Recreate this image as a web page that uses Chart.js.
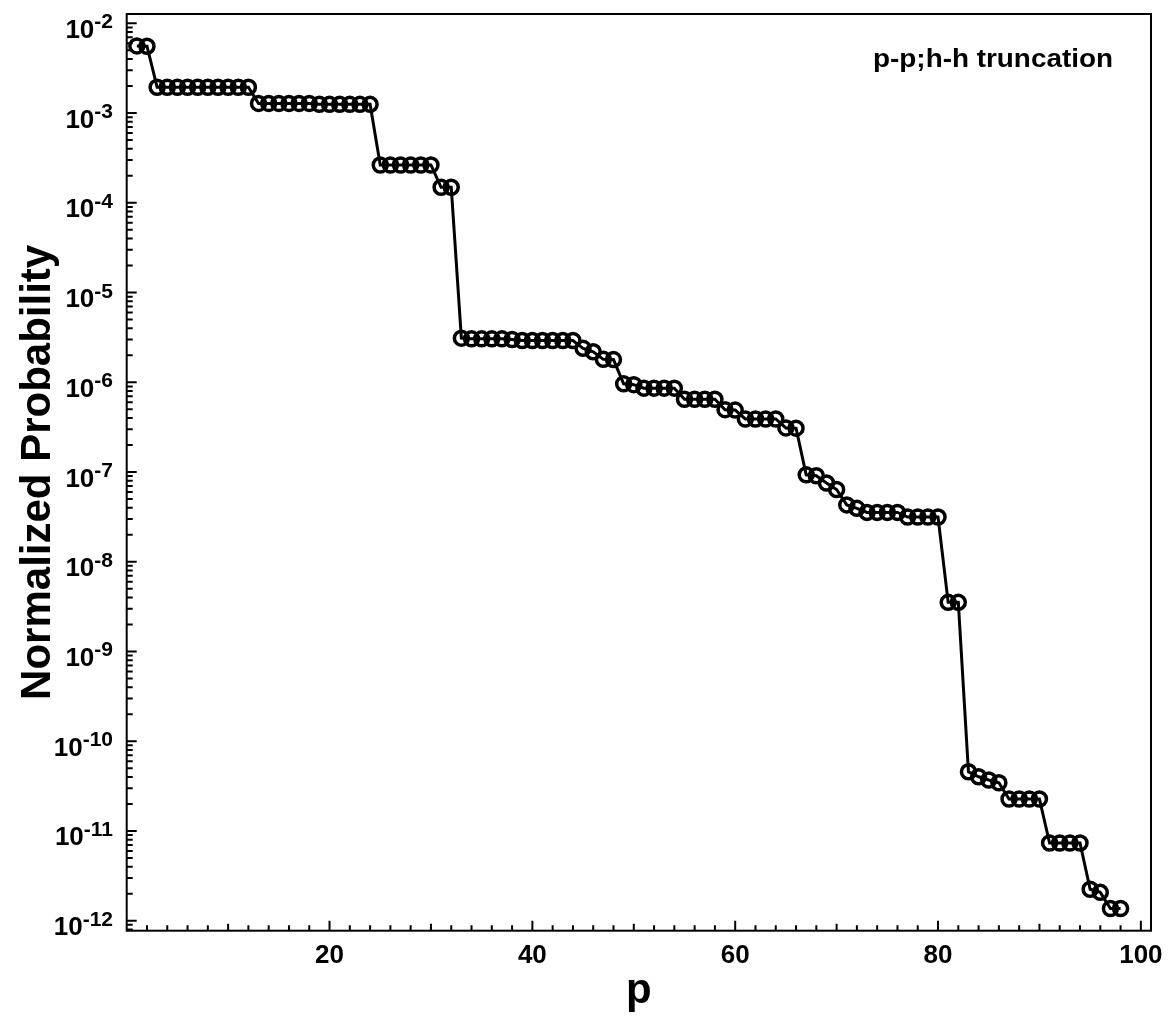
<!DOCTYPE html>
<html>
<head>
<meta charset="utf-8">
<script src="https://cdn.jsdelivr.net/npm/chart.js@4/dist/chart.umd.min.js"></script>
<style>
  body { margin: 0; background: #fff; }
</style>
</head>
<body>
<canvas id="prob-chart" width="1173" height="1019"></canvas>
<script>
// p index of each configuration
const pValues = [
     1,  2,  3,  4,  5,  6,  7,  8,  9, 10,
    11, 12, 13, 14, 15, 16, 17, 18, 19, 20,
    21, 22, 23, 24, 25, 26, 27, 28, 29, 30,
    31, 32, 33, 34, 35, 36, 37, 38, 39, 40,
    41, 42, 43, 44, 45, 46, 47, 48, 49, 50,
    51, 52, 53, 54, 55, 56, 57, 58, 59, 60,
    61, 62, 63, 64, 65, 66, 67, 68, 69, 70,
    71, 72, 73, 74, 75, 76, 77, 78, 79, 80,
    81, 82, 83, 84, 85, 86, 87, 88, 89, 90,
    91, 92, 93, 94, 95, 96, 97, 98
];

// normalized probability for each p
const probabilities = [
    5.6e-3, 5.55e-3,
    1.94e-3, 1.94e-3, 1.94e-3, 1.94e-3, 1.94e-3, 1.94e-3, 1.94e-3, 1.94e-3, 1.94e-3, 1.94e-3,
    1.28e-3, 1.28e-3, 1.28e-3, 1.28e-3, 1.28e-3, 1.28e-3,
    1.25e-3, 1.25e-3, 1.25e-3, 1.25e-3, 1.25e-3, 1.25e-3,
    2.64e-4, 2.64e-4, 2.64e-4, 2.64e-4, 2.64e-4, 2.64e-4,
    1.49e-4, 1.49e-4,
    3.1e-6, 3.05e-6, 3.05e-6, 3.05e-6, 3.05e-6, 3.0e-6,
    2.92e-6, 2.92e-6, 2.92e-6, 2.92e-6, 2.92e-6, 2.92e-6,
    2.39e-6, 2.19e-6, 1.8e-6, 1.79e-6,
    9.6e-7, 9.4e-7,
    8.6e-7, 8.6e-7, 8.6e-7, 8.6e-7,
    6.46e-7, 6.46e-7, 6.46e-7, 6.46e-7,
    4.95e-7, 4.9e-7,
    3.9e-7, 3.9e-7, 3.9e-7, 3.9e-7,
    3.1e-7, 3.08e-7,
    9.3e-8, 9.1e-8, 7.54e-8, 6.38e-8,
    4.3e-8, 3.94e-8,
    3.55e-8, 3.55e-8, 3.55e-8, 3.55e-8,
    3.15e-8, 3.15e-8, 3.15e-8, 3.15e-8,
    3.53e-9, 3.53e-9,
    4.57e-11, 4.02e-11, 3.7e-11, 3.45e-11,
    2.27e-11, 2.27e-11, 2.27e-11, 2.27e-11,
    7.34e-12, 7.34e-12, 7.34e-12, 7.34e-12,
    2.24e-12, 2.07e-12, 1.37e-12, 1.37e-12
];

const xLabelTicks = [20, 40, 60, 80, 100];
const yDecades = [-2, -3, -4, -5, -6, -7, -8, -9, -10, -11, -12];

const xTitle = 'p';
const yTitle = 'Normalized Probability';
const noteText = 'p-p;h-h truncation';

const FONT = '"Liberation Sans", Arial, Helvetica, sans-serif';

const framePlugin = {
    id: 'frame',
    afterDatasetsDraw(chart) {
        const ctx = chart.ctx;
        const area = chart.chartArea;
        const xs = chart.scales.x;
        const ys = chart.scales.y;

        ctx.save();
        ctx.strokeStyle = '#000';
        ctx.fillStyle = '#000';
        ctx.lineWidth = 2;

        // frame
        ctx.strokeRect(area.left, area.top, area.right - area.left, area.bottom - area.top);

        // bottom ticks, every 2 units, pointing inward
        ctx.beginPath();
        for (let v = 2; v <= xs.max; v += 2) {
            const px = xs.getPixelForValue(v);
            let len = 5.5;
            if (v % 20 === 0) len = 10;
            else if (v % 10 === 0) len = 7;
            ctx.moveTo(px, area.bottom);
            ctx.lineTo(px, area.bottom - len);
        }
        // left ticks, decades plus 2..9 minors
        for (let d = -13; d <= -2; d++) {
            for (let m = 1; m <= 9; m++) {
                const val = m * Math.pow(10, d);
                if (val < ys.min || val > ys.max) continue;
                const py = ys.getPixelForValue(val);
                const len = m === 1 ? 10 : 6;
                ctx.moveTo(area.left, py);
                ctx.lineTo(area.left + len, py);
            }
        }
        ctx.stroke();

        // x tick labels
        ctx.font = 'bold 26px ' + FONT;
        ctx.textAlign = 'center';
        ctx.textBaseline = 'alphabetic';
        xLabelTicks.forEach(v => {
            ctx.fillText(String(v), xs.getPixelForValue(v), 963);
        });

        // y tick labels as 10 with superscript exponent
        const labelRight = 113;
        yDecades.forEach(d => {
            const py = ys.getPixelForValue(Math.pow(10, d));
            const exp = '-' + Math.abs(d);
            ctx.font = 'bold 21px ' + FONT;
            const expW = ctx.measureText(exp).width;
            ctx.textAlign = 'left';
            ctx.fillText(exp, labelRight - expW, py + 5);
            ctx.font = 'bold 26px ' + FONT;
            ctx.textAlign = 'right';
            ctx.fillText('10', labelRight - expW, py + 14.5);
        });

        // axis titles
        ctx.font = 'bold 42px ' + FONT;
        ctx.textAlign = 'center';
        ctx.fillText(xTitle, (area.left + area.right) / 2, 1003);

        ctx.save();
        ctx.translate(50, (area.top + area.bottom) / 2);
        ctx.rotate(-Math.PI / 2);
        ctx.fillText(yTitle, 0, 0);
        ctx.restore();

        // annotation in the upper right corner, wide bold lettering
        ctx.font = 'bold 25px ' + FONT;
        ctx.textAlign = 'left';
        const noteW = ctx.measureText(noteText).width;
        ctx.save();
        ctx.translate(873, 67);
        ctx.scale(240 / noteW, 1);
        ctx.fillText(noteText, 0, 0);
        ctx.restore();

        ctx.restore();
    }
};

new Chart(document.getElementById('prob-chart'), {
    type: 'line',
    data: {
        datasets: [{
            data: pValues.map((p, i) => ({ x: p, y: probabilities[i] })),
            borderColor: '#000',
            borderWidth: 3,
            pointRadius: 7,
            pointBorderWidth: 3.5,
            pointBorderColor: '#000',
            pointBackgroundColor: 'rgba(0,0,0,0)',
            tension: 0
        }]
    },
    options: {
        responsive: false,
        animation: false,
        devicePixelRatio: 1,
        layout: { padding: { top: 14, right: 22, left: 0, bottom: 0 } },
        plugins: {
            legend: { display: false },
            tooltip: { enabled: false }
        },
        scales: {
            x: {
                type: 'linear',
                min: 0,
                max: 101,
                grid: { display: false },
                border: { display: false },
                ticks: { display: false },
                afterFit: s => { s.height = 88.3; }
            },
            y: {
                type: 'logarithmic',
                min: 7.74e-13,
                max: 1.27e-2,
                grid: { display: false },
                border: { display: false },
                ticks: { display: false },
                afterFit: s => { s.width = 126.7; }
            }
        }
    },
    plugins: [framePlugin]
});
</script>
</body>
</html>
